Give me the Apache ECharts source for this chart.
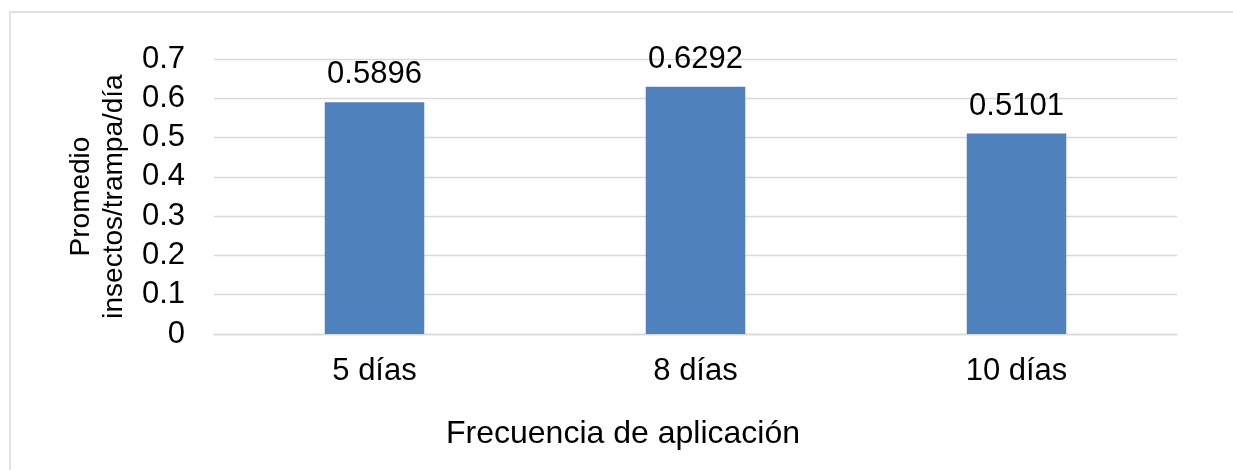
<!DOCTYPE html>
<html>
<head>
<meta charset="utf-8">
<style>
  html, body { margin: 0; padding: 0; background: #fff; }
  #chart { width: 1233px; height: 470px; }
</style>
<script src="https://cdn.jsdelivr.net/npm/echarts@6/dist/echarts.min.js"></script>
</head>
<body>
<div id="chart"></div>
<script>
// Average insects per trap per day by application frequency
const categories = ['5 días', '8 días', '10 días'];
const promedio = [0.5896, 0.6292, 0.5101];
const yTicks = { min: 0, max: 0.7, step: 0.1 };

const FONT = '"Liberation Sans", Arial, sans-serif';
const FS = 31;
const chart = echarts.init(document.getElementById('chart'), null, { renderer: 'canvas' });

chart.setOption({
  animation: false,
  backgroundColor: '#ffffff',
  textStyle: { fontFamily: FONT, color: '#000' },
  grid: { left: 214, right: 56, top: 59, bottom: 136, containLabel: false },
  graphic: [
    {
      type: 'rect',
      shape: { x: 10, y: 12, width: 1240, height: 480 },
      style: { fill: 'none', stroke: '#d9d9d9', lineWidth: 1.5 },
      z: -1
    },
    {
      type: 'text',
      x: 623,
      y: 418,
      style: {
        text: 'Frecuencia de aplicación',
        font: '32px ' + FONT,
        fill: '#000',
        align: 'center',
        verticalAlign: 'top'
      }
    }
  ],
  xAxis: {
    type: 'category',
    data: categories,
    axisLine: { lineStyle: { color: '#d9d9d9', width: 1.3 } },
    axisTick: { show: false },
    axisLabel: { fontSize: FS, color: '#000', margin: 22, fontFamily: FONT }
  },
  yAxis: {
    type: 'value',
    min: yTicks.min,
    max: yTicks.max,
    interval: yTicks.step,
    name: 'Promedio\ninsectos/trampa/día',
    nameLocation: 'middle',
    nameRotate: 90,
    nameGap: 83,
    nameTextStyle: { fontSize: 28, color: '#000', lineHeight: 33, fontFamily: FONT },
    axisLine: { show: false },
    axisTick: { show: false },
    splitLine: { lineStyle: { color: '#d9d9d9', width: 1.3 } },
    axisLabel: {
      fontSize: FS, color: '#000', margin: 29, fontFamily: FONT,
      formatter: v => (v === 0 ? '0' : v.toFixed(1))
    }
  },
  series: [{
    type: 'bar',
    data: promedio,
    barWidth: '31%',
    itemStyle: { color: '#4f81bd' },
    label: {
      show: true,
      position: 'top',
      distance: 12,
      fontSize: FS,
      color: '#000',
      fontFamily: FONT,
      formatter: p => String(p.value)
    }
  }]
});
</script>
</body>
</html>
